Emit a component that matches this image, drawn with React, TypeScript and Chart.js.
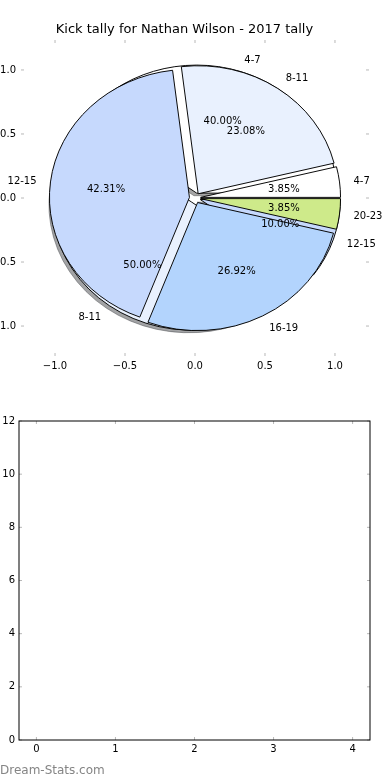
import React, { useEffect, useRef } from 'react';
import { Chart, registerables } from 'chart.js';

Chart.register(...registerables);

// ---------------- data ----------------
const TITLE = 'Kick tally for Nathan Wilson - 2017 tally';
const PIE_A_LABELS = ['4-7', '8-11', '12-15', '16-19', '20-23'];
const PIE_A_VALUES = [1, 6, 11, 7, 1];
const PIE_B_LABELS = ['4-7', '8-11', '12-15'];
const PIE_B_VALUES = [4, 5, 1];
const PIE_X_TICKS = [-1, -0.5, 0, 0.5, 1];
const PIE_Y_TICKS = [-1, -0.5, 0, 0.5, 1];
const BAR_X_TICKS = [0, 1, 2, 3, 4];
const BAR_Y_TICKS = [0, 2, 4, 6, 8, 10, 12];
const BAR_CATEGORIES: number[] = [];
const BAR_VALUES: number[] = [];
const WATERMARK = 'Dream-Stats.com';

// ---------------- styles ----------------
const FONT = '"DejaVu Sans", sans-serif';
const SLICE_COLORS: Record<string, string> = {
  '4-7': '#ffffff',
  '8-11': '#e9f1fe',
  '12-15': '#c6d9fd',
  '16-19': '#b3d4fd',
  '20-23': '#ceea8a',
};
const EXPLODE_A = 0.04;
const EXPLODE_B = 0.04;
const SHADOW_OFFSET = 0.02;
const TICK_COLOR = '#b8b8b8';
const TICK_LEN = 3;
const TEXT_DY = 1;

const W = 390;
const TOP_H = 375;
const BOT_TOP = 380;
const BOT_H = 380;

function shade(hex: string, alpha: number) {
  const r = parseInt(hex.slice(1, 3), 16);
  const g = parseInt(hex.slice(3, 5), 16);
  const b = parseInt(hex.slice(5, 7), 16);
  return `rgba(${Math.round(r * 0.3)},${Math.round(g * 0.3)},${Math.round(b * 0.3)},${alpha})`;
}

function fmtPie(v: number) {
  return v.toFixed(1).replace('-', '\u2212');
}

const tickMarks = {
  id: 'tickMarks',
  afterDraw(chart: any) {
    const { ctx, chartArea: ca } = chart;
    const xs = chart.scales.x;
    const ys = chart.scales.y;
    ctx.save();
    ctx.strokeStyle = TICK_COLOR;
    ctx.lineWidth = 1;
    ctx.beginPath();
    xs.ticks.forEach((t: any) => {
      const px = xs.getPixelForValue(t.value);
      ctx.moveTo(px, ca.top);
      ctx.lineTo(px, ca.top + TICK_LEN);
      ctx.moveTo(px, ca.bottom);
      ctx.lineTo(px, ca.bottom - TICK_LEN);
    });
    ys.ticks.forEach((t: any) => {
      const py = ys.getPixelForValue(t.value);
      ctx.moveTo(ca.left, py);
      ctx.lineTo(ca.left + TICK_LEN, py);
      ctx.moveTo(ca.right, py);
      ctx.lineTo(ca.right - TICK_LEN, py);
    });
    ctx.stroke();
    ctx.restore();
  },
};

const frame = {
  id: 'frame',
  afterDraw(chart: any) {
    const { ctx, chartArea: ca } = chart;
    ctx.save();
    ctx.strokeStyle = '#000';
    ctx.lineWidth = 1;
    ctx.strokeRect(ca.left, ca.top, ca.right - ca.left, ca.bottom - ca.top);
    ctx.restore();
  },
};

function drawPieTexts(chart: any, labels: string[], values: number[], explode: number) {
  const { ctx } = chart;
  const xs = chart.scales.x;
  const ys = chart.scales.y;
  const total = values.reduce((a, b) => a + b, 0);
  let theta = 0;
  ctx.save();
  ctx.fillStyle = '#000';
  ctx.font = `10px ${FONT}`;
  ctx.textBaseline = 'middle';
  values.forEach((v, i) => {
    const frac = v / total;
    const t1 = theta;
    const t2 = theta + frac * 360;
    theta = t2;
    const mid = ((t1 + t2) / 2) * Math.PI / 180;
    const cx = explode * Math.cos(mid);
    const cy = explode * Math.sin(mid);
    const lx = cx + 1.1 * Math.cos(mid);
    const ly = cy + 1.1 * Math.sin(mid);
    ctx.textAlign = lx > 0 ? 'left' : 'right';
    ctx.fillText(labels[i], xs.getPixelForValue(lx), ys.getPixelForValue(ly) + TEXT_DY);
    const px = cx + 0.6 * Math.cos(mid);
    const py = cy + 0.6 * Math.sin(mid);
    ctx.textAlign = 'center';
    ctx.fillText((frac * 100).toFixed(2) + '%', xs.getPixelForValue(px), ys.getPixelForValue(py) + TEXT_DY);
  });
  ctx.restore();
}

const pieTexts = {
  id: 'pieTexts',
  afterDraw(chart: any) {
    drawPieTexts(chart, PIE_B_LABELS, PIE_B_VALUES, EXPLODE_B);
    drawPieTexts(chart, PIE_A_LABELS, PIE_A_VALUES, EXPLODE_A);
  },
};

function makePie(
  canvas: HTMLCanvasElement,
  labels: string[],
  values: number[],
  colors: string[],
  borders: string[],
  explode: number,
  R: number,
  k: number,
  padding: any,
  shift: { dx: number; dy: number }
) {
  return new Chart(canvas, {
    type: 'pie',
    data: {
      labels: [...labels].reverse(),
      datasets: [
        {
          data: [...values].reverse(),
          backgroundColor: [...colors].reverse(),
          borderColor: [...borders].reverse(),
          borderWidth: 1,
        },
      ],
    },
    options: {
      responsive: false,
      animation: false,
      rotation: 90,
      radius: R,
      layout: { padding },
      plugins: {
        legend: { display: false },
        tooltip: { enabled: false },
        title: { display: false },
      },
    } as any,
    plugins: [
      {
        id: 'ellipse',
        beforeDatasetsDraw(chart: any) {
          const ca = chart.chartArea;
          const cx = (ca.left + ca.right) / 2;
          const cy = (ca.top + ca.bottom) / 2;
          const meta = chart.getDatasetMeta(0);
          meta.data.forEach((el: any) => {
            const mid = (el.startAngle + el.endAngle) / 2;
            el.x = cx + Math.cos(mid) * explode * R;
            el.y = cy + Math.sin(mid) * explode * R;
          });
          const ctx = chart.ctx;
          ctx.save();
          ctx.translate(shift.dx, shift.dy);
          ctx.translate(cx, cy);
          ctx.scale(1, k);
          ctx.translate(-cx, -cy);
        },
        afterDatasetsDraw(chart: any) {
          chart.ctx.restore();
        },
      },
    ],
  });
}

export default function App() {
  const shadowRef = useRef<HTMLCanvasElement>(null);
  const pieBRef = useRef<HTMLCanvasElement>(null);
  const pieARef = useRef<HTMLCanvasElement>(null);
  const axesRef = useRef<HTMLCanvasElement>(null);
  const barRef = useRef<HTMLCanvasElement>(null);

  useEffect(() => {
    document.body.style.margin = '0';
    Chart.defaults.font.family = FONT;
    const charts: Chart[] = [];

    const axes = new Chart(axesRef.current!, {
      type: 'scatter',
      data: { datasets: [{ data: [] }] },
      options: {
        responsive: false,
        animation: false,
        layout: { padding: { left: 0, right: 21, top: 0, bottom: 0 } },
        plugins: {
          legend: { display: false },
          tooltip: { enabled: false },
          title: {
            display: true,
            text: TITLE,
            color: '#000',
            font: { family: FONT, size: 13, weight: 'normal' },
            padding: { top: 22, bottom: 2.4 },
          },
        },
        scales: {
          x: {
            type: 'linear',
            min: -1.243,
            max: 1.243,
            grid: { display: false, drawTicks: false },
            border: { display: false },
            afterBuildTicks: (s: any) => {
              s.ticks = PIE_X_TICKS.map((v) => ({ value: v }));
            },
            afterFit: (s: any) => {
              s.height = 19;
            },
            ticks: {
              padding: 4,
              color: '#000',
              font: { family: FONT, size: 10 },
              maxRotation: 0,
              autoSkip: false,
              callback: (v: any) => fmtPie(Number(v)),
            },
          },
          y: {
            type: 'linear',
            position: 'left',
            min: -1.234,
            max: 1.234,
            grid: { display: false, drawTicks: false },
            border: { display: false },
            afterBuildTicks: (s: any) => {
              s.ticks = PIE_Y_TICKS.map((v) => ({ value: v }));
            },
            afterFit: (s: any) => {
              s.width = 21;
            },
            ticks: {
              padding: 5,
              color: '#000',
              font: { family: FONT, size: 10 },
              autoSkip: false,
              callback: (v: any) => fmtPie(Number(v)),
            },
          },
        },
      } as any,
      plugins: [tickMarks, pieTexts],
    });
    charts.push(axes);

    const xs: any = axes.scales.x;
    const ys: any = axes.scales.y;
    const R = xs.getPixelForValue(1) - xs.getPixelForValue(0);
    const k = (ys.getPixelForValue(0) - ys.getPixelForValue(1)) / R;
    const ca = axes.chartArea;
    const padding = { left: ca.left, top: ca.top, right: W - ca.right, bottom: TOP_H - ca.bottom };
    const shadowShift = {
      dx: xs.getPixelForValue(-SHADOW_OFFSET) - xs.getPixelForValue(0),
      dy: ys.getPixelForValue(-SHADOW_OFFSET) - ys.getPixelForValue(0),
    };

    const bColors = PIE_B_LABELS.map((l) => SLICE_COLORS[l]);
    const aColors = PIE_A_LABELS.map((l) => SLICE_COLORS[l]);
    const bShadow = PIE_B_LABELS.map((l) => shade(SLICE_COLORS[l], 0.5));

    charts.push(
      makePie(shadowRef.current!, PIE_B_LABELS, PIE_B_VALUES, bShadow, bShadow, EXPLODE_B, R, k, padding, shadowShift)
    );
    charts.push(
      makePie(pieBRef.current!, PIE_B_LABELS, PIE_B_VALUES, bColors, bColors.map(() => '#000'), EXPLODE_B, R, k, padding, { dx: 0, dy: 0 })
    );
    charts.push(
      makePie(pieARef.current!, PIE_A_LABELS, PIE_A_VALUES, aColors, aColors.map(() => '#000'), EXPLODE_A, R, k, padding, { dx: 0, dy: 0 })
    );

    const bar = new Chart(barRef.current!, {
      type: 'scatter',
      data: {
        datasets: [{ data: BAR_CATEGORIES.map((c, i) => ({ x: c, y: BAR_VALUES[i] })) }],
      },
      options: {
        responsive: false,
        animation: false,
        layout: { padding: { left: 0, right: 20, top: 41, bottom: 0 } },
        plugins: { legend: { display: false }, tooltip: { enabled: false } },
        scales: {
          x: {
            type: 'linear',
            min: -0.22,
            max: 4.22,
            grid: { display: false, drawTicks: false },
            border: { display: false },
            afterBuildTicks: (s: any) => {
              s.ticks = BAR_X_TICKS.map((v) => ({ value: v }));
            },
            afterFit: (s: any) => {
              s.height = 20;
            },
            ticks: {
              padding: 3,
              color: '#000',
              font: { family: FONT, size: 10 },
              maxRotation: 0,
              autoSkip: false,
              callback: (v: any) => String(v),
            },
          },
          y: {
            type: 'linear',
            min: 0,
            max: 12,
            grid: { display: false, drawTicks: false },
            border: { display: false },
            afterBuildTicks: (s: any) => {
              s.ticks = BAR_Y_TICKS.map((v) => ({ value: v }));
            },
            afterFit: (s: any) => {
              s.width = 19;
            },
            ticks: {
              padding: 4,
              color: '#000',
              font: { family: FONT, size: 10 },
              autoSkip: false,
              callback: (v: any) => String(v),
            },
          },
        },
      } as any,
      plugins: [tickMarks, frame],
    });
    charts.push(bar);

    return () => charts.forEach((c) => c.destroy());
  }, []);

  const abs: React.CSSProperties = { position: 'absolute', left: 0, top: 0 };
  return (
    <div style={{ position: 'relative', width: W, height: 780, background: '#fff', overflow: 'hidden' }}>
      <canvas ref={shadowRef} width={W} height={TOP_H} style={{ ...abs, width: W, height: TOP_H }} />
      <canvas ref={pieBRef} width={W} height={TOP_H} style={{ ...abs, width: W, height: TOP_H }} />
      <canvas ref={pieARef} width={W} height={TOP_H} style={{ ...abs, width: W, height: TOP_H }} />
      <canvas ref={axesRef} width={W} height={TOP_H} style={{ ...abs, width: W, height: TOP_H }} />
      <canvas ref={barRef} width={W} height={BOT_H} style={{ ...abs, top: BOT_TOP, width: W, height: BOT_H }} />
      <div
        style={{
          position: 'absolute',
          left: 0,
          top: 763,
          fontFamily: FONT,
          fontSize: 12,
          lineHeight: '14px',
          color: '#858585',
          whiteSpace: 'nowrap',
        }}
      >
        {WATERMARK}
      </div>
    </div>
  );
}
